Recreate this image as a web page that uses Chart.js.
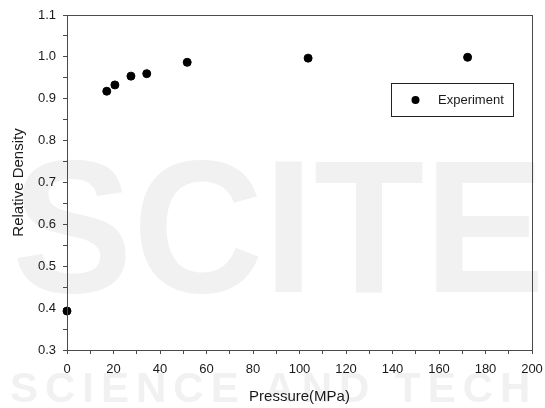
<!DOCTYPE html>
<html>
<head>
<meta charset="utf-8">
<script src="https://cdn.jsdelivr.net/npm/chart.js@4/dist/chart.umd.min.js"></script>
<style>
  html, body { margin: 0; padding: 0; background: #fff; }
  #wrap { width: 545px; height: 408px; }
</style>
</head>
<body>
<div id="wrap"><canvas id="c" width="545" height="408"></canvas></div>
<script>
// Relative density vs. compaction pressure.
var pressure = [0, 17.1, 20.6, 27.5, 34.3, 51.7, 103.7, 172.3];
var density = [0.393, 0.918, 0.933, 0.954, 0.960, 0.987, 0.997, 0.999];
var seriesName = "Experiment";
var xLabel = "Pressure(MPa)";
var yLabel = "Relative Density";

var AXIS = "#4a4a4a", TEXT = "#1a1a1a";
var FONT = "'Liberation Sans', Arial, sans-serif";

// faint publisher watermark behind the plot
var watermark = {
  id: "watermark",
  beforeDraw: function (chart) {
    var ctx = chart.ctx;
    ctx.save();
    ctx.fillStyle = "#f1f1f1";
    ctx.textBaseline = "alphabetic";
    ctx.font = "bold 190px " + FONT;
    ctx.fillText("SCITE", 12, 292, 533);
    ctx.font = "bold 42px " + FONT;
    ctx.letterSpacing = "7px";
    ctx.fillText("SCIENCE AND TECH", 10, 402);
    ctx.restore();
  }
};

// frame round the plot area and the boxed legend
var frame = {
  id: "frame",
  afterDraw: function (chart) {
    var a = chart.chartArea, ctx = chart.ctx;
    ctx.save();
    ctx.strokeStyle = AXIS;
    ctx.lineWidth = 1;
    ctx.strokeRect(a.left + 0.5, a.top + 0.5, a.right - a.left, a.bottom - a.top);
    // legend
    ctx.strokeStyle = "#222";
    ctx.strokeRect(391.5, 83.5, 122, 33);
    ctx.fillStyle = "#000";
    ctx.beginPath();
    ctx.arc(415.5, 100, 4, 0, Math.PI * 2);
    ctx.fill();
    ctx.fillStyle = TEXT;
    ctx.font = "13px " + FONT;
    ctx.textBaseline = "middle";
    ctx.fillText(seriesName, 438, 100);
    ctx.restore();
  }
};

function tickOpts(every, fmt) {
  return {
    color: TEXT,
    font: { family: FONT, size: 13 },
    autoSkip: false,
    maxRotation: 0,
    callback: function (v) {
      var r = Math.round(v / every);
      return Math.abs(v / every - r) < 1e-6 ? fmt(v) : "";
    }
  };
}

// pin axis sizes so the plot area lands where the figure's frame is
function pin(w, h) {
  return function (s) {
    if (w) s.width = w;
    if (h) s.height = h;
    s.paddingLeft = s.paddingRight = s.paddingTop = s.paddingBottom = 0;
  };
}

new Chart(document.getElementById("c"), {
  type: "scatter",
  data: {
    datasets: [{
      label: seriesName,
      data: pressure.map(function (p, i) { return { x: p, y: density[i] }; }),
      backgroundColor: "#000",
      borderColor: "#000",
      pointRadius: 4,
      pointHoverRadius: 4,
      clip: false
    }]
  },
  options: {
    responsive: false,
    animation: false,
    layout: { padding: { top: 15, right: 13, left: 0, bottom: 0 } },
    plugins: { legend: { display: false }, tooltip: { enabled: false } },
    scales: {
      x: {
        type: "linear", min: 0, max: 200,
        ticks: Object.assign(tickOpts(20, function (v) { return String(v); }), { stepSize: 10, padding: 8 }),
        grid: { drawOnChartArea: false, drawTicks: true, tickLength: 4, color: AXIS, tickColor: AXIS },
        border: { color: AXIS },
        title: { display: true, text: xLabel, color: TEXT, font: { family: FONT, size: 15 }, padding: { top: 0, bottom: 2 } },
        afterFit: pin(0, 58)
      },
      y: {
        type: "linear", min: 0.3, max: 1.1,
        ticks: Object.assign(tickOpts(0.1, function (v) { return v.toFixed(1); }), { stepSize: 0.05, padding: 7 }),
        grid: { drawOnChartArea: false, drawTicks: true, tickLength: 4, color: AXIS, tickColor: AXIS },
        border: { color: AXIS },
        title: { display: true, text: yLabel, color: TEXT, font: { family: FONT, size: 15 }, padding: { top: 10, bottom: 0 } },
        afterFit: pin(67, 0)
      }
    }
  },
  plugins: [watermark, frame]
});
</script>
</body>
</html>
